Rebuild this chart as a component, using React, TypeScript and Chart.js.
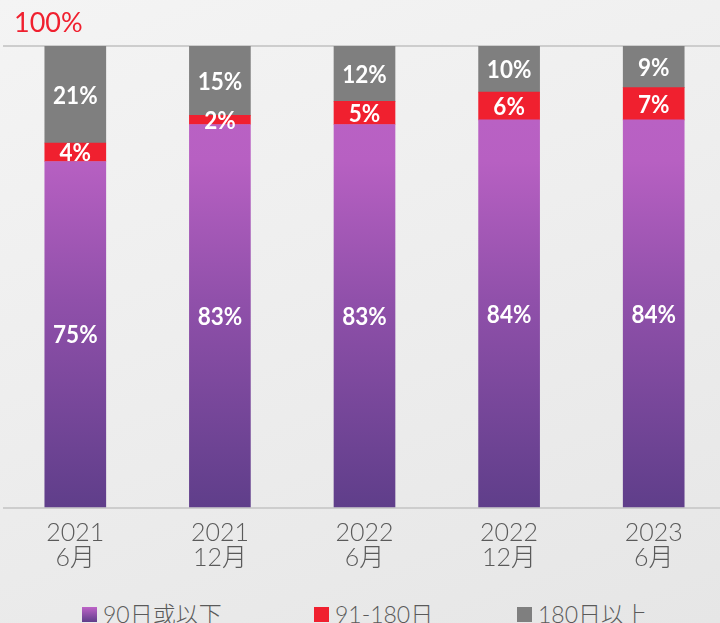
import React, { useEffect, useRef } from "react";
import { Chart, registerables } from "chart.js";

Chart.register(...registerables);

const categories: string[][] = [
  ["2021", "6月"],
  ["2021", "12月"],
  ["2022", "6月"],
  ["2022", "12月"],
  ["2023", "6月"],
];
const under90: number[] = [75, 83, 83, 84, 84];
const d91to180: number[] = [4, 2, 5, 6, 7];
const over180: number[] = [21, 15, 12, 10, 9];
const seriesNames: string[] = ["90日或以下", "91-180日", "180日以上"];

const RED = "#f0202f";
const GRAY = "#7f7f7f";
const FONT = "Lato, 'Noto Sans CJK TC', 'Noto Sans', sans-serif";

const labelPlugin = {
  id: "segLabels",
  afterDatasetsDraw(chart: any) {
    const ctx = chart.ctx;
    chart.data.datasets.forEach((ds: any, di: number) => {
      const meta = chart.getDatasetMeta(di);
      meta.data.forEach((el: any, i: number) => {
        const v = ds.data[i];
        const props = el.getProps(["x", "y", "base"], true);
        const cy = (props.y + props.base) / 2;
        ctx.save();
        ctx.fillStyle = "#ffffff";
        ctx.font = `bold 25px ${FONT}`;
        ctx.textAlign = "center";
        ctx.textBaseline = "middle";
        ctx.translate(props.x, cy + 1);
        ctx.scale(0.9, 1);
        ctx.fillText(`${v}%`, 0, 0);
        ctx.restore();
      });
    });
  },
};

function purpleGradient(context: any) {
  const chart = context.chart;
  const area = chart.chartArea;
  if (!area) return "#9b55b0";
  const g = chart.ctx.createLinearGradient(0, area.bottom, 0, area.top);
  g.addColorStop(0, "#5f3e8a");
  g.addColorStop(0.45, "#9050aa");
  g.addColorStop(0.75, "#b760c2");
  g.addColorStop(1, "#bd63c7");
  return g;
}

export default function App() {
  const ref = useRef<HTMLCanvasElement>(null);
  useEffect(() => {
    if (!ref.current) return;
    const chart = new Chart(ref.current, {
      type: "bar",
      data: {
        labels: categories,
        datasets: [
          { label: seriesNames[0], data: under90, backgroundColor: purpleGradient as any },
          { label: seriesNames[1], data: d91to180, backgroundColor: RED },
          { label: seriesNames[2], data: over180, backgroundColor: GRAY },
        ],
      },
      options: {
        responsive: false,
        animation: false,
        maintainAspectRatio: false,
        layout: { padding: { top: 46, left: 3, right: 0, bottom: 10 } },
        datasets: { bar: { barThickness: 61 } } as any,
        plugins: {
          legend: { display: false },
          tooltip: { enabled: false },
          title: { display: false },
        },
        scales: {
          x: {
            stacked: true,
            grid: { display: false, drawTicks: false },
            border: { display: false },
            ticks: {
              color: "#5a5a5a",
              font: { family: FONT, size: 25, weight: "300" as any, lineHeight: 1.0 },
              padding: 12,
              maxRotation: 0,
            },
          },
          y: {
            stacked: true,
            min: 0,
            max: 100,
            ticks: { display: false, stepSize: 100 },
            border: { display: false },
            grid: { color: "#cdcdcd", lineWidth: 2, drawTicks: false },
          },
        },
      },
      plugins: [labelPlugin],
    });
    return () => chart.destroy();
  }, []);

  const legendItems = [
    { name: seriesNames[0], bg: "linear-gradient(to bottom, #bd63c7, #5f3e8a)", left: 82 },
    { name: seriesNames[1], bg: RED, left: 314 },
    { name: seriesNames[2], bg: GRAY, left: 517 },
  ];

  return (
    <div
      style={{
        position: "absolute",
        left: 0,
        top: 0,
        width: 720,
        height: 623,
        overflow: "hidden",
        background: "linear-gradient(160deg, #f4f4f4 0%, #eeeeee 45%, #e6e6e6 100%)",
        fontFamily: FONT,
      }}
    >
      <canvas
        ref={ref}
        width={726}
        height={592}
        style={{ position: "absolute", left: 0, top: 0, width: 726, height: 592 }}
      />
      <div
        style={{
          position: "absolute",
          left: 14,
          top: 8,
          color: RED,
          fontSize: 27,
          lineHeight: "28px",
        }}
      >
        100%
      </div>
      {legendItems.map((it) => (
        <div
          key={it.name}
          style={{
            position: "absolute",
            left: it.left,
            top: 601,
            display: "flex",
            alignItems: "center",
            color: "#5a5a5a",
            fontSize: 23,
            fontWeight: 300,
            lineHeight: "26px",
            whiteSpace: "nowrap",
          }}
        >
          <span
            style={{
              display: "inline-block",
              width: 15,
              height: 15,
              background: it.bg,
              marginRight: 6,
            }}
          />
          {it.name}
        </div>
      ))}
    </div>
  );
}
